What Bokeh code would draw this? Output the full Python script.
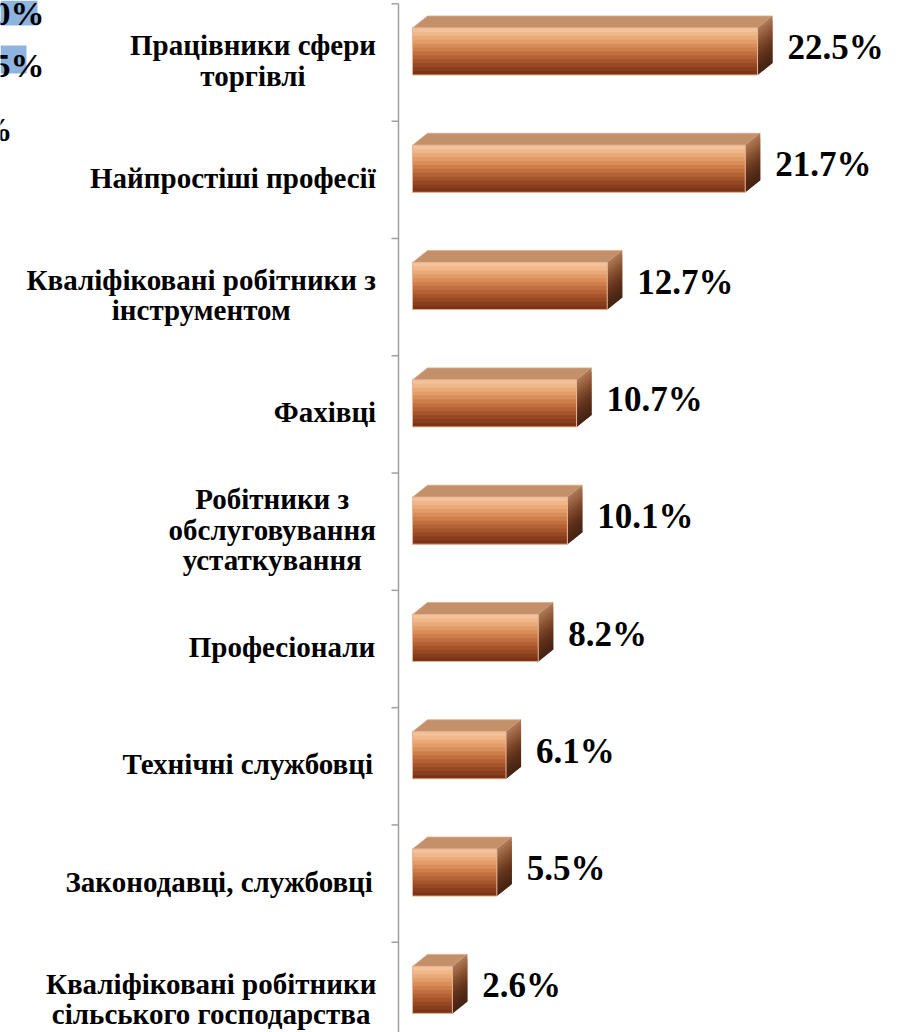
from bokeh.plotting import figure
from bokeh.models import ColumnDataSource, Range1d
from bokeh.core.properties import value
from bokeh.embed import file_html
from bokeh.resources import INLINE

# ---------------- data ----------------
categories = [
    "Працівники сфери\nторгівлі",
    "Найпростіші професії",
    "Кваліфіковані робітники з\nінструментом",
    "Фахівці",
    "Робітники з\nобслуговування\nустаткування",
    "Професіонали",
    "Технічні службовці",
    "Законодавці, службовці",
    "Кваліфіковані робітники\nсільського господарства",
]
shares = [22.5, 21.7, 12.7, 10.7, 10.1, 8.2, 6.1, 5.5, 2.6]
share_labels = ["22.5%", "21.7%", "12.7%", "10.7%", "10.1%", "8.2%", "6.1%", "5.5%", "2.6%"]
# fragments of a neighbouring chart cut off at the top-left edge
fragment_texts = ["0%", "5%", "%"]

# ---------------- layout / style ----------------
W, H = 900, 1032
PX = 15.333          # pixels per percentage point
BAR_X0 = 412         # pixel position of bar base
ROW = 117.3          # pixels per category row
FIRST = 62           # pixel position of first category centre
FONT = "Liberation Serif"
CAT_PX = 29
VAL_PX = 35

x_start = -BAR_X0 / PX
x_end = (W - BAR_X0) / PX
y_top = -FIRST / ROW
y_bot = y_top + H / ROW


def dx(px):
    return px / PX


def dy(px):
    return px / ROW


def fx(px):
    return x_start + px / PX


def fy(px):
    return y_top + px / ROW


p = figure(width=W, height=H, output_backend="svg", toolbar_location=None,
           x_range=Range1d(x_start, x_end), y_range=Range1d(y_bot, y_top),
           min_border=0, outline_line_color=None, background_fill_color="white",
           border_fill_color="white", x_axis_location=None, y_axis_location=None)
p.grid.visible = False

n = len(shares)
idx = list(range(n))

# ---- category axis line & ticks ----
AX = -dx(14)
p.segment(x0=[AX], y0=[-0.5], x1=[AX], y1=[n - 0.5], line_color="#a0a0a0", line_width=1.5)
p.segment(x0=[AX - dx(7)] * (n + 1), y0=[i - 0.5 for i in range(n + 1)],
          x1=[AX] * (n + 1), y1=[i - 0.5 for i in range(n + 1)],
          line_color="#a0a0a0", line_width=1.5)

# ---- 3D bars ----
FH = dy(47)         # front face height
OFF = dy(11)        # front face centre above category centre
DX = dx(15)         # depth x
DY = dy(12)         # depth y (upwards)

front_cols = ["#f3c29a", "#f0b788", "#eaaa78", "#e29c68", "#d98d59", "#ce7e4b",
              "#c26f3f", "#b46134", "#a5542b", "#964823", "#883e1c", "#7a3516"]
side_cols = ["#a87452", "#a06a48", "#965f3e", "#8b5535", "#804b2d", "#754226",
             "#6b3a20", "#62331c", "#5a2e19", "#532a17", "#4d2715", "#472413"]
NS = len(front_cols)

# top faces
top_xs, top_ys = [], []
for i, v in zip(idx, shares):
    yt = i - OFF - FH / 2
    top_xs.append([0, DX, v + DX, v])
    top_ys.append([yt, yt - DY, yt - DY, yt])
p.patches(top_xs, top_ys, fill_color="#c4906a", line_color="#d9a987", line_width=0.8)

# side faces (overlapping gradient strips)
sxs, sys, scs = [], [], []
for i, v in zip(idx, shares):
    yt = i - OFF - FH / 2
    for k in range(NS):
        a = yt + FH * k / NS
        b = min(yt + FH * (k + 2) / NS, yt + FH)
        sxs.append([v, v + DX, v + DX, v])
        sys.append([a, a - DY, b - DY, b])
        scs.append(side_cols[k])
p.patches(sxs, sys, fill_color=scs, line_color=None)

# front faces (overlapping gradient strips)
ql, qr, qt, qb, qc = [], [], [], [], []
for i, v in zip(idx, shares):
    yt = i - OFF - FH / 2
    for k in range(NS):
        ql.append(0)
        qr.append(v)
        qt.append(yt + FH * k / NS)
        qb.append(min(yt + FH * (k + 2) / NS, yt + FH))
        qc.append(front_cols[k])
p.quad(left=ql, right=qr, top=qt, bottom=qb, fill_color=qc, line_color=None)
p.hbar(y=[i - OFF for i in idx], left=0, right=shares, height=FH,
       fill_color=None, line_color="#e7b596", line_width=1)

# value labels
p.text(x=[v + DX for v in shares], y=[i - dy(15) for i in idx], text=share_labels,
       x_offset=15, text_align="left", text_baseline="middle",
       text_font=value(FONT), text_font_style="bold", text_font_size=f"{VAL_PX}px",
       text_color="black")

# ---- category labels (centred lines, right edge near the axis) ----
EM = {' ': 0.25, ',': 0.25,
      'а': 0.5, 'б': 0.5, 'в': 0.5, 'г': 0.42, 'ґ': 0.42, 'д': 0.54, 'е': 0.444, 'є': 0.444,
      'ж': 0.84, 'з': 0.43, 'и': 0.56, 'і': 0.278, 'ї': 0.278, 'й': 0.56, 'к': 0.55, 'л': 0.54,
      'м': 0.68, 'н': 0.56, 'о': 0.5, 'п': 0.556, 'р': 0.556, 'с': 0.444, 'т': 0.47, 'у': 0.5,
      'ф': 0.72, 'х': 0.5, 'ц': 0.56, 'ч': 0.54, 'ш': 0.82, 'щ': 0.82, 'ь': 0.5, 'ю': 0.78,
      'я': 0.53, 'П': 0.78, 'Н': 0.78, 'К': 0.78, 'Ф': 0.8, 'Р': 0.61, 'Т': 0.667, 'З': 0.56}


def text_w(s):
    return max(sum(EM.get(c, 0.6) for c in line) for line in s.split("\n")) * CAT_PX


GAP = 24
offs = [-(GAP + text_w(c) / 2) for c in categories]
src = ColumnDataSource(dict(x=[AX] * n, y=[i - dy(2) for i in idx], text=categories, xo=offs))
p.text(x="x", y="y", text="text", x_offset="xo", source=src,
       text_align="center", text_baseline="middle", text_line_height=0.95,
       text_font=value(FONT), text_font_style="bold", text_font_size=f"{CAT_PX}px",
       text_color="black")

# ---- cut-off neighbour fragments (top-left) ----
p.quad(left=[fx(0), fx(0)], right=[fx(37), fx(26)], top=[fy(0), fy(45)],
       bottom=[fy(25), fy(73)], fill_color="#8fb3df", line_color=None)
p.text(x=[fx(44), fx(44), fx(12)], y=[fy(13), fy(65), fy(129)], text=fragment_texts,
       text_align="right", text_baseline="middle",
       text_font=value(FONT), text_font_style="bold", text_font_size="34px",
       text_color="black")

open("out.html", "w").write(file_html(p, INLINE))
